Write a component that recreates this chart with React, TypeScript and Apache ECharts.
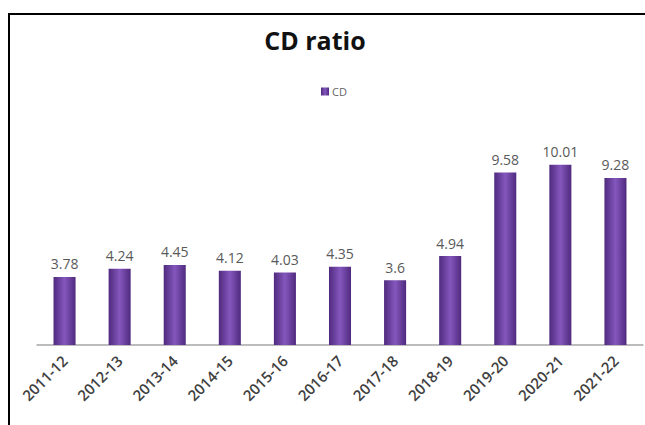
import React, { useEffect, useRef } from "react";
import * as echarts from "echarts";

const categories = ["2011-12", "2012-13", "2013-14", "2014-15", "2015-16", "2016-17", "2017-18", "2018-19", "2019-20", "2020-21", "2021-22"];
const cdValues = [3.78, 4.24, 4.45, 4.12, 4.03, 4.35, 3.6, 4.94, 9.58, 10.01, 9.28];

export default function App() {
  const ref = useRef<HTMLDivElement>(null);
  useEffect(() => {
    const chart = echarts.init(ref.current!, null, { renderer: "svg" });
    const barColor = new echarts.graphic.LinearGradient(0, 0, 1, 0, [
      { offset: 0, color: "#4f2a7e" },
      { offset: 0.5, color: "#8457bd" },
      { offset: 1, color: "#4f2a7e" },
    ]);
    chart.setOption({
      animation: false,
      backgroundColor: "#ffffff",
      graphic: [
        {
          type: "rect",
          shape: { x: 9, y: 14, width: 800, height: 600 },
          style: { fill: "none", stroke: "#000000", lineWidth: 2 },
          silent: true,
        },
      ],
      title: {
        text: "CD ratio",
        left: 310,
        textAlign: "center",
        top: 22,
        textStyle: { fontFamily: "Open Sans", fontWeight: "bold", fontSize: 25, color: "#111111" },
      },
      legend: {
        data: ["CD"],
        left: 316,
        top: 81,
        itemWidth: 8,
        itemHeight: 8,
        itemGap: 4,
        textStyle: { fontFamily: "Open Sans", fontSize: 11, color: "#666666", padding: [0, 0, 0, -2] },
        icon: "rect",
      },
      grid: { left: 37, right: 2, top: 129, bottom: 80, containLabel: false },
      xAxis: {
        type: "category",
        data: categories,
        axisLine: { lineStyle: { color: "#a6a6a6", width: 1.5 } },
        axisTick: { show: false },
        axisLabel: {
          rotate: 45,
          interval: 0,
          margin: 13,
          fontFamily: "Open Sans",
          fontSize: 15,
          fontWeight: 600,
          color: "#404040",
        },
      },
      yAxis: {
        type: "value",
        min: 0,
        max: 12,
        show: false,
        splitLine: { show: false },
      },
      series: [
        {
          name: "CD",
          type: "bar",
          data: cdValues,
          barWidth: "40%",
          itemStyle: { color: barColor },
          label: {
            show: true,
            position: "top",
            distance: 6,
            fontFamily: "Open Sans",
            fontSize: 14,
            color: "#595959",
          },
        },
      ],
    });
    return () => chart.dispose();
  }, []);
  return <div ref={ref} style={{ position: "fixed", left: 0, top: 0, width: 645, height: 425 }} />;
}
